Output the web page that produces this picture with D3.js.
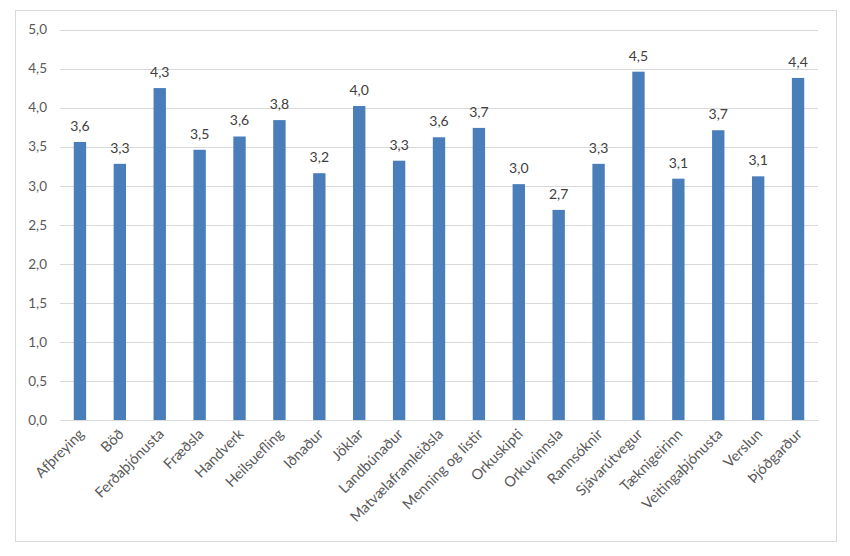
<!DOCTYPE html>
<html>
<head>
<meta charset="utf-8">
<script src="https://cdn.jsdelivr.net/npm/d3@7"></script>
<style>
  html, body { margin: 0; padding: 0; background: #fff; }
  svg { display: block; }
</style>
</head>
<body>
<svg id="chart" width="850" height="556"></svg>
<script>
const categories = ["Afþreying","Böð","Ferðaþjónusta","Fræðsla","Handverk","Heilsuefling","Iðnaður","Jöklar","Landbúnaður","Matvælaframleiðsla","Menning og listir","Orkuskipti","Orkuvinnsla","Rannsóknir","Sjávarútvegur","Tæknigeirinn","Veitingaþjónusta","Verslun","Þjóðgarður"];
const values = [3.56,3.28,4.25,3.46,3.63,3.84,3.16,4.02,3.32,3.62,3.74,3.02,2.69,3.28,4.46,3.09,3.71,3.12,4.38];
const yTicks = [0,0.5,1,1.5,2,2.5,3,3.5,4,4.5,5];

const svg = d3.select("#chart");
const font = "Lato, 'Open Sans', sans-serif";
const fmt = v => d3.format(".1f")(v).replace(".", ",");

// outer border
svg.append("rect").attr("x", 15.5).attr("y", 10.5).attr("width", 821).attr("height", 531)
  .attr("fill", "#fff").attr("stroke", "#d9d9d9").attr("stroke-width", 1);

const x = d3.scaleBand().domain(categories).range([60, 818]).paddingInner(0.69).paddingOuter(0.345);
const y = d3.scaleLinear().domain([0, 5]).range([420, 29.5]);

// gridlines
svg.append("g").selectAll("line").data(yTicks).join("line")
  .attr("x1", 60).attr("x2", 818)
  .attr("y1", d => Math.round(y(d)) + 0.5).attr("y2", d => Math.round(y(d)) + 0.5)
  .attr("stroke", "#d9d9d9").attr("stroke-width", 1);

// y axis labels
const yAxis = d3.axisLeft(y).tickValues(yTicks).tickFormat(fmt).tickSize(0).tickPadding(0);
const gy = svg.append("g").attr("transform", "translate(47,0)").call(yAxis);
gy.select(".domain").remove();
gy.selectAll("text").attr("font-family", font).attr("font-size", 13.5).attr("fill", "#595959");

// bars
svg.append("g").selectAll("rect").data(values).join("rect")
  .attr("x", (d, i) => x(categories[i]))
  .attr("width", x.bandwidth())
  .attr("y", d => y(d))
  .attr("height", d => y(0) - y(d))
  .attr("fill", "#4a7ebb");

// data labels
svg.append("g").selectAll("text").data(values).join("text")
  .attr("x", (d, i) => x(categories[i]) + x.bandwidth() / 2)
  .attr("y", d => y(d) - 11)
  .attr("text-anchor", "middle")
  .attr("font-family", font).attr("font-size", 14).attr("fill", "#404040")
  .text(fmt);

// x axis labels
const xAxis = d3.axisBottom(x).tickSize(0).tickPadding(0);
const gx = svg.append("g").attr("transform", "translate(0,420)").call(xAxis);
gx.select(".domain").attr("stroke", "#d9d9d9");
gx.selectAll("text")
  .attr("font-family", font).attr("font-size", 14.5).attr("fill", "#595959")
  .attr("text-anchor", "end")
  .attr("dy", null).attr("y", 0)
  .attr("transform", "translate(5,15) rotate(-45)");
</script>
</body>
</html>
